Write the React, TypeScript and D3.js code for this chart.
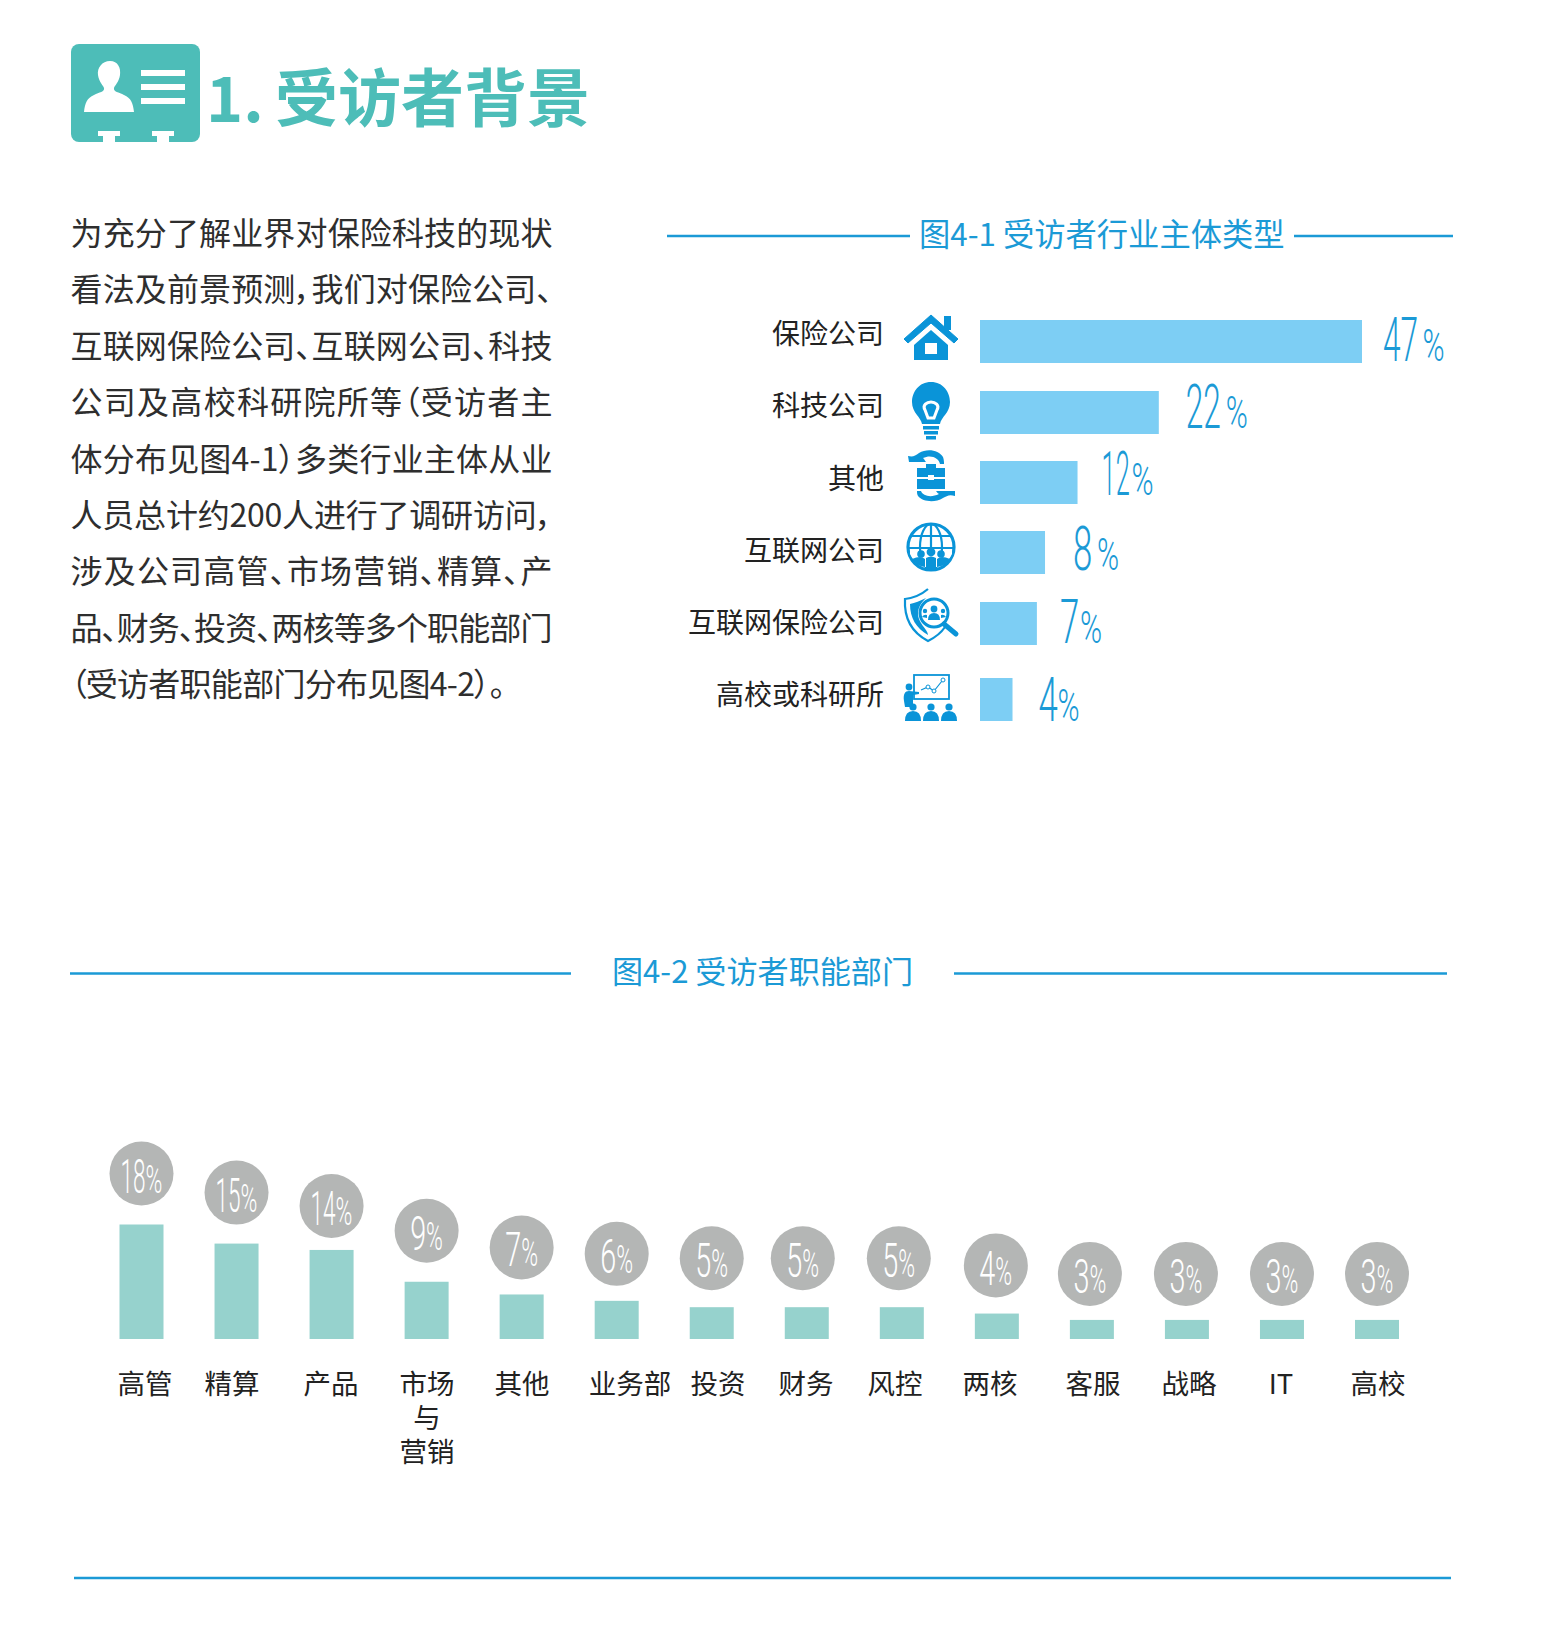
import React from "react";
import * as d3 from "d3";

const bodyLines = [
  "为充分了解业界对保险科技的现状",
  "看法及前景预测，我们对保险公司、",
  "互联网保险公司、互联网公司、科技",
  "公司及高校科研院所等（受访者主",
  "体分布见图4-1）多类行业主体从业",
  "人员总计约200人进行了调研访问，",
  "涉及公司高管、市场营销、精算、产",
  "品、财务、投资、两核等多个职能部门",
  "（受访者职能部门分布见图4-2）。",
];
const industryNames = ["保险公司", "科技公司", "其他", "互联网公司", "互联网保险公司", "高校或科研所"];
const industryValues = [47, 22, 12, 8, 7, 4];
const deptNames = ["高管", "精算", "产品", "市场", "其他", "业务部", "投资", "财务", "风控", "两核", "客服", "战略", "IT", "高校"];
const deptValues = [18, 15, 14, 9, 7, 6, 5, 5, 5, 4, 3, 3, 3, 3];

const BLUE = "#1b9ad6";
const ICON = "#0a94d8";
const TEAL = "#4dbdb8";
const CJK = "'Noto Sans CJK SC', sans-serif";
const NUM = "Roboto, 'Noto Sans', sans-serif";

const House = () => (
  <g fill={ICON} transform="translate(0,1)">
    <rect x={13} y={-22} width={7} height={14} />
    <path d="M0,-23 L27,1 L23,5 L0,-15 L-23,5 L-27,1 Z" stroke={ICON} strokeWidth={1} strokeLinejoin="round" />
    <path d="M0,-8 L-17,7 V22 H17 V7 Z" />
    <rect x={-6} y={5} width={12} height={11} fill="#fff" />
  </g>
);
const Bulb = () => (
  <g fill={ICON}>
    <path d="M0,-28 C-12,-28 -19,-18 -19,-8 C-19,3 -10,7 -9,14 H9 C10,7 19,3 19,-8 C19,-18 12,-28 0,-28 Z" />
    <path d="M-6,0 C-9,-5 -4,-8 0,-8 C4,-8 9,-5 6,0 L3,8 H-3 Z" fill="none" stroke="#fff" strokeWidth={3} />
    <rect x={-8} y={16} width={16} height={3.5} />
    <rect x={-7} y={21} width={14} height={3.5} />
    <rect x={-5} y={26} width={10} height={3.5} />
  </g>
);
const Case = () => (
  <g>
    <path d="M-23,-20 C-18,-19 -16,-20 -12,-23 C-4,-28 8,-26 12,-19 C13,-16 13,-14 13,-12 L9,-12 C8,-18 0,-22 -8,-18 C-6,-16 -6,-15 -5,-14 L-22,-14 Z" fill={ICON} />
    <path d="M-14,-8 H-5 V-12 H5 V-8 H14 V13 H-14 Z" fill={ICON} />
    <rect x={-14} y={1} width={28} height={2} fill="#fff" />
    <rect x={-3} y={-1} width={6} height={5} fill="#fff" />
    <path d="M24,20 C18,18 16,20 12,22 C4,27 -8,26 -13,20 C-14,18 -14,17 -14,15 L-10,15 C-8,20 0,22 8,18 C6,17 6,16 5,15 L24,15 Z" fill={ICON} />
  </g>
);
const Globe = () => (
  <g>
    <circle r={23} fill="none" stroke={ICON} strokeWidth={3.2} />
    <g fill="none" stroke={ICON} strokeWidth={2.2}>
      <ellipse rx={11} ry={23} />
      <path d="M0,-23 V2 M-20,-11 H20 M-23,1 H23" />
    </g>
    <path d="M-21,7 A23,23 0 0 0 21,7 V4 H-21 Z" fill="#fff" />
    <g fill={ICON}>
      <circle cx={-10} cy={7} r={3.8} />
      <circle cx={10} cy={7} r={3.8} />
      <circle cx={0} cy={5} r={4.4} />
      <path d="M-19,12 Q-10,8 -6,12 L-6,20 Q-14,19 -19,12 Z" />
      <path d="M19,12 Q10,8 6,12 L6,20 Q14,19 19,12 Z" />
      <path d="M-5,11 Q0,8 5,11 V23 H-5 Z" />
    </g>
  </g>
);
const Shield = () => (
  <g>
    <path d="M-3,-26 C-10,-20 -18,-17 -26,-16 C-27,2 -20,17 -3,26 C5,22 10,18 14,12" fill="none" stroke={ICON} strokeWidth={2.2} />
    <path d="M-5,-17 C-11,-14 -16,-12 -21,-11 C-21,3 -15,13 -3,20 C-3,14 -14,8 -13,-3 C-12,-10 -8,-14 -5,-17 Z" fill={ICON} />
    <circle cx={3} cy={-2} r={14} fill="#fff" stroke={ICON} strokeWidth={3} />
    <path d="M13,9 L25,19" stroke={ICON} strokeWidth={5} strokeLinecap="round" />
    <g fill={ICON}>
      <circle cx={3} cy={-6} r={3.4} />
      <path d="M-3,5 Q-3,-2 3,-2 Q9,-2 9,5 Z" />
      <circle cx={-6} cy={-4} r={2.2} />
      <circle cx={12} cy={-4} r={2.2} />
      <path d="M-9,2 Q-7,-1 -4,0 L-4,3 Z" />
      <path d="M15,2 Q13,-1 10,0 L10,3 Z" />
    </g>
  </g>
);
const Present = () => (
  <g>
    <rect x={-17} y={-24} width={35} height={24} fill="#fff" stroke={ICON} strokeWidth={1.8} />
    <path d="M-10,-9 L-3,-12 L3,-8 L11,-18" fill="none" stroke={ICON} strokeWidth={1.2} />
    <g fill="#fff" stroke={ICON} strokeWidth={1}>
      <circle cx={-3} cy={-12} r={2} />
      <circle cx={3} cy={-8} r={2} />
      <circle cx={12} cy={-19} r={2} />
    </g>
    <g fill={ICON}>
      <circle cx={-22} cy={-12} r={3.4} />
      <path d="M-27,2 C-28,-5 -26,-8 -22,-8 L-12,-7 L-12,-5 L-18,-4 L-18,8 L-26,8 Z" />
      <circle cx={-18} cy={8} r={3.6} />
      <circle cx={0} cy={8} r={3.6} />
      <circle cx={18} cy={8} r={3.6} />
      <path d="M-26,22 Q-26,12 -18,12 Q-10,12 -10,22 Z" />
      <path d="M-8,22 Q-8,12 0,12 Q8,12 8,22 Z" />
      <path d="M10,22 Q10,12 18,12 Q26,12 26,22 Z" />
    </g>
  </g>
);
const icons = [House, Bulb, Case, Globe, Shield, Present];
const iconY = [337, 410, 476, 547, 615, 699];
const rowTop = [320, 391, 461, 531, 602, 678];
const labelY = [344, 416, 489, 561, 633, 705];
const valueBase = [361, 428, 495, 570, 643, 721];
const labelOffset = [21, 27, 24, 28, 23, 26];
const pctOffset = [60.5, 67, 54, 52, 43, 45];
const digitScale = [0.51, 0.51, 0.41, 0.56, 0.56, 0.56];

const deptLift = [51, 51, 44, 51, 47, 47, 49, 49, 49, 48, 46, 46, 46, 46];
const bubbleShift = [0, 0, 0, 0, 0, 0, 0, -4, -3, -1, -2, -1, 0, 0];
const deptLabelX = [145, 232, 331, 427, 522, 630, 718, 806, 895, 990, 1093, 1189, 1281, 1378];

export default function App() {
  const xInd = d3.scaleLinear().domain([0, 47]).range([0, 382]);
  const yDept = d3.scaleLinear().domain([0, 18]).range([0, 114.5]);
  const xDept = d3.scalePoint<string>().domain(deptNames.map((d, i) => d + i)).range([141.5, 1377]);
  const base = 1339;

  return (
    <svg width={1546} height={1630} viewBox="0 0 1546 1630" style={{ position: "absolute", left: 0, top: 0, background: "#fff" }}>
      {/* header */}
      <rect x={71} y={44} width={129} height={98} rx={8} fill={TEAL} />
      <g fill="#fff">
        <path d="M110,61 C118,61 121,68 120,75 C119,82 115,85 114,88 C113,92 119,92 124,95 C131,98 133,103 134,112 H84 C85,103 87,98 94,95 C99,92 105,92 104,88 C103,85 99,82 98,75 C97,68 102,61 110,61 Z" />
        <rect x={141} y={70} width={44} height={6} />
        <rect x={141} y={84} width={44} height={6} />
        <rect x={141} y={98} width={44} height={6} />
        <path d="M98,131 H120 V136 H115 V142 H103 V136 H98 Z" />
        <path d="M152,131 H174 V136 H169 V142 H157 V136 H152 Z" />
      </g>
      <text x={206} y={122} fontFamily={CJK} fontWeight={700} fontSize={63} fill={TEAL}>1.</text>
      <text x={275} y={121} fontFamily={CJK} fontWeight={700} fontSize={63} fill={TEAL}>受访者背景</text>

      {/* body */}
      <g fontFamily={CJK} fontSize={32} fill="#2e2e2e" style={{ fontFeatureSettings: '"palt"' }}>
        {bodyLines.map((t, i) => (
          <text key={i} x={70.5} y={245 + i * 56.4} textLength={i < 8 ? 482 : 435} lengthAdjust="spacing">{t}</text>
        ))}
      </g>

      {/* chart 1 */}
      <g stroke={BLUE} strokeWidth={2.6}>
        <line x1={667} x2={910} y1={236} y2={236} />
        <line x1={1294} x2={1453} y1={236} y2={236} />
      </g>
      <text x={919} y={246} fontFamily={CJK} fontSize={31.3} fill={BLUE}>图4-1 受访者行业主体类型</text>
      {industryNames.map((n, i) => {
        const Ico = icons[i];
        const w = xInd(industryValues[i]);
        const v = String(industryValues[i]);
        const end = 980 + w;
        return (
          <g key={n}>
            <text x={884} y={labelY[i]} textAnchor="end" fontFamily={CJK} fontSize={28} fill="#222">{n}</text>
            <g transform={`translate(931,${iconY[i]})`}><Ico /></g>
            <rect x={980} y={rowTop[i]} width={w} height={43} fill="#7dcef4" />
            <text transform={`translate(${end + labelOffset[i]},${valueBase[i]}) scale(${digitScale[i]},1)`} fontFamily={NUM} fontWeight={300} fontSize={62} fill={BLUE}>{v}</text>
            <text transform={`translate(${end + pctOffset[i]},${valueBase[i]}) scale(0.68,1)`} fontFamily={NUM} fontWeight={300} fontSize={44} fill={BLUE}>%</text>
          </g>
        );
      })}

      {/* chart 2 */}
      <g stroke={BLUE} strokeWidth={2.6}>
        <line x1={70} x2={571} y1={973.5} y2={973.5} />
        <line x1={954} x2={1447} y1={973.5} y2={973.5} />
      </g>
      <text x={612} y={983} fontFamily={CJK} fontSize={31.1} fill={BLUE}>图4-2 受访者职能部门</text>
      {deptNames.map((n, i) => {
        const cx = xDept(n + i) as number;
        const h = yDept(deptValues[i]);
        const cy = base - h - deptLift[i];
        const bx = cx + bubbleShift[i];
        const v = String(deptValues[i]);
        const two = v.length > 1;
        const split = bx + (two ? 4 : -0.5);
        return (
          <g key={n + i}>
            <rect x={cx - 22} y={base - h} width={44} height={h} fill="#96d2cd" />
            <circle cx={bx} cy={cy} r={32} fill="#b4b6b5" />
            <text transform={`translate(${split},${cy + 19}) scale(${two ? 0.47 : 0.6},1)`} textAnchor="end" fontFamily={NUM} fontWeight={300} fontSize={48} fill="#fff">{v}</text>
            <text transform={`translate(${split},${cy + 19}) scale(0.6,1)`} fontFamily={NUM} fontWeight={300} fontSize={38} fill="#fff">%</text>
            <text x={deptLabelX[i]} y={1394} textAnchor="middle" fontFamily={CJK} fontSize={27.5} fill="#222">{n}</text>
          </g>
        );
      })}
      <text x={427} y={1428} textAnchor="middle" fontFamily={CJK} fontSize={27.5} fill="#222">与</text>
      <text x={427} y={1462} textAnchor="middle" fontFamily={CJK} fontSize={27.5} fill="#222">营销</text>
      <line x1={74} x2={1451} y1={1578} y2={1578} stroke={BLUE} strokeWidth={2.6} />
    </svg>
  );
}
